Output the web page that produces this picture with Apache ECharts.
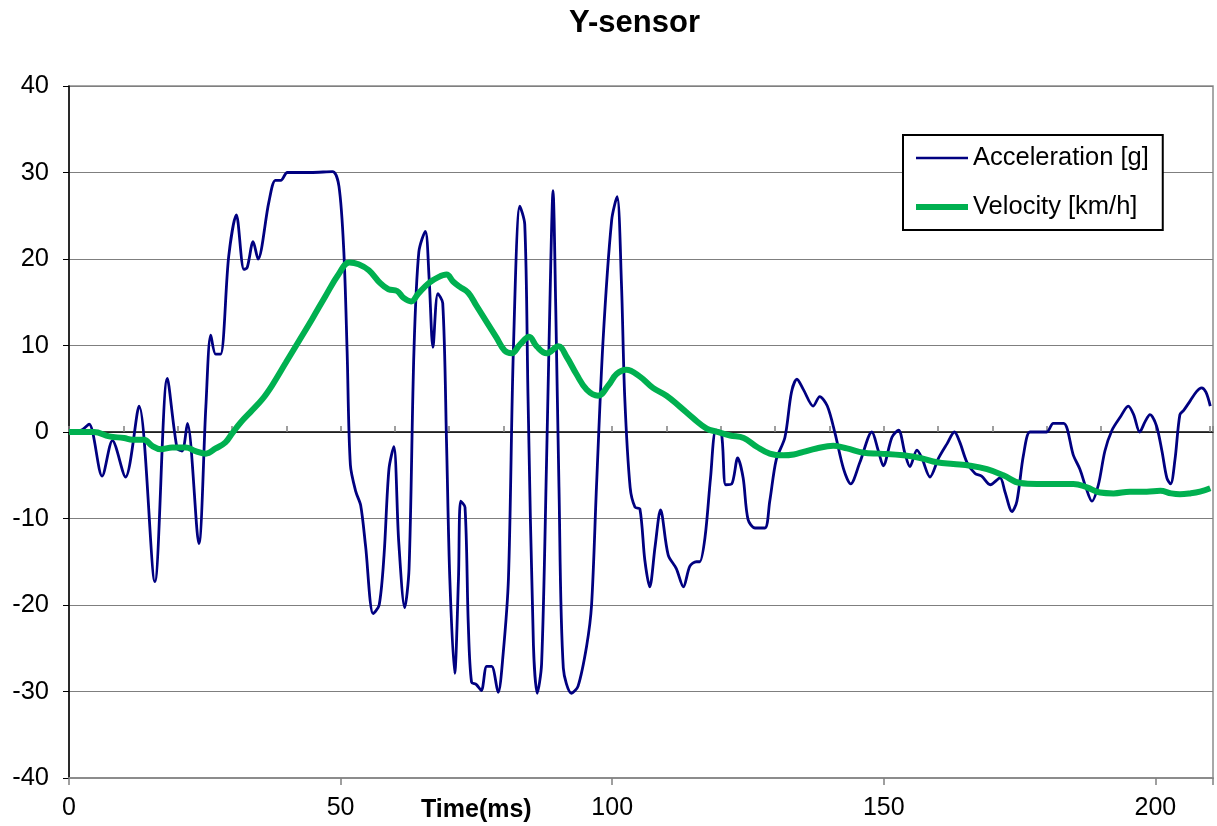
<!DOCTYPE html>
<html style="height: 100%">
<head>
    <meta charset="utf-8">
    <title>Y-sensor</title>
    <script src="https://cdn.jsdelivr.net/npm/echarts@6/dist/echarts.min.js"></script>
</head>
<body style="height: 100%; margin: 0; background: #fff">
    <div id="chart" style="width: 1217px; height: 826px;"></div>

    <script type="text/javascript">
    // time (ms) / value pairs
    var accTime = [0.5, 2.5, 3.7, 6.1, 8.0, 10.4, 12.9, 15.8, 18.1, 19.9, 20.8, 21.8, 23.9, 25.2, 26.1, 27.0, 27.9, 29.4, 30.8,
        32.2, 32.8, 33.9, 34.8, 36.8, 38.0, 39.0, 40.2, 44.5, 48.5, 49.7, 50.6, 51.2, 51.8, 52.8, 53.7, 54.6, 56.0,
        57.1, 58.0, 58.9, 59.8, 60.7, 61.8, 62.6, 63.5, 64.4, 65.6, 66.3, 67.0, 67.9, 68.8, 69.5, 70.1, 71.0, 71.7,
        72.1, 72.9, 73.5, 74.1, 75.0, 75.9, 76.9, 77.8, 79.0, 79.9, 80.9, 81.8, 83.0, 83.9, 84.5, 85.5, 86.2, 87.0,
        87.9, 88.7, 89.1, 89.6, 90.2, 91.0, 92.5, 93.7, 95.3, 96.2, 97.1, 98.3, 99.9, 100.9, 101.7, 102.3, 103.3,
        104.2, 105.1, 106.0, 106.9, 107.9, 108.9, 110.3, 111.8, 113.1, 114.3, 115.5, 116.1, 117.1, 118.1, 119.1,
        120.1, 120.9, 122.0, 123.1, 124.1, 125.0, 126.3, 128.1, 129.0, 130.2, 131.8, 133.0, 134.0, 135.2, 137.0,
        138.2, 139.6, 141.0, 142.6, 143.9, 145.6, 147.8, 149.0, 149.9, 151.5, 152.7, 153.9, 154.8, 156.1, 157.0,
        158.5, 160.1, 161.6, 163.0, 164.0, 165.3, 166.8, 168.0, 169.6, 171.4, 172.3, 173.6, 174.5, 175.7, 176.9,
        178.5, 180.0, 181.2, 183.1, 184.9, 186.1, 187.2, 188.3, 189.5, 190.7, 192.0, 193.5, 195.0, 196.0, 197.1,
        198.1, 199.0, 200.2, 201.2, 202.1, 202.8, 203.6, 204.5, 205.2, 206.4, 207.6, 208.5, 209.3, 210.1];
    var accValue = [0, 0.3, 0.9, -5.1, -1.0, -5.2, 3.0, -17.3, 6.2, -1.9, -2.2, 1.0, -12.9, 3.0, 11.2, 9.0, 9.0, 20.3, 25.1,
        18.8, 19.0, 22.0, 20.0, 26.6, 29.1, 29.1, 30.0, 30.0, 30.1, 28.4, 20.8, 9.3, -3.8, -6.9, -8.5, -13.2, -21.0,
        -20.0, -14.2, -4.3, -1.7, -12.7, -20.3, -15.8, 9.3, 20.8, 23.2, 17.7, 9.8, 16.0, 14.9, -1.2, -16.9, -27.9, -16.9,
        -8.0, -8.7, -22.1, -28.9, -29.2, -29.9, -27.1, -27.1, -30.1, -25.8, -16.9, 9.3, 26.1, 24.0, 4.1, -24.7, -30.2, -26.8,
        -3.8, 19.8, 27.9, 14.6, -6.4, -27.3, -30.2, -29.4, -24.7, -20.0, -6.4, 10.4, 24.5, 27.2, 17.2, 4.1, -6.4,
        -8.7, -8.9, -14.8, -17.9, -13.2, -9.0, -14.2, -15.8, -17.9, -15.5, -15.0, -15.0, -12.1, -5.3, 0.2,
        -0.1, -6.1, -6.0, -3.0, -5.3, -10.1, -11.1, -11.1, -8.0, -3.2, -0.6, 4.6, 6.1, 4.9, 3.0,
        4.1, 3.0, -0.1, -4.3, -6.0, -3.5, 0, -2.2, -3.9, -0.6, 0.2, -2.5, -4.0, -2.1, -3.0,
        -5.2, -3.0, -1.4, 0, -1.2, -3.5, -4.8, -5.1, -6.1, -5.3, -6.9, -9.2, -8.0, -2.7, 0,
        0, 0, 1.0, 1.0, -2.7, -4.3, -6.4, -8.0, -6.1, -2.2, 0.2, 1.7, 3.0, 2.0, 0,
        1.2, 2.0, 0.7, -2.2, -5.3, -6.0, -3.2, 2.0, 2.5, 3.6, 4.7, 5.1, 4.6, 3.0];

    var velTime = [0, 4.6, 7.4, 10.1, 11.7, 13.8, 15.3, 16.9, 19.0, 21.5, 23.3, 25.2, 27.0, 28.8, 30.1, 31.6, 33.4, 35.6,
        37.4, 39.9, 42.3, 44.8, 47.2, 49.6, 51.6, 53.3, 55.2, 57.3, 58.8, 60.4, 61.6, 63.0, 64.3, 66.2, 68.0, 69.5,
        70.7, 71.9, 73.5, 75.0, 76.9, 78.7, 80.2, 81.5, 83.0, 84.7, 86.1, 87.9, 90.1, 91.6, 93.4, 95.3, 97.4, 99.3,
        100.8, 102.6, 105.1, 107.5, 110.0, 112.5, 114.9, 117.4, 119.2, 121.7, 124.2, 126.6, 129.0, 131.5, 133.4,
        135.2, 137.6, 140.7, 143.2, 146.3, 149.3, 153.6, 156.7, 159.8, 162.8, 165.9, 169.0, 172.0, 175.1, 178.2,
        181.2, 184.9, 187.4, 189.8, 192.3, 195.3, 198.4, 200.9, 202.9, 204.5, 206.4, 208.2, 210.1];
    var velValue = [0, 0, -0.5, -0.7, -0.9, -0.9, -1.6, -2.0, -1.8, -1.8, -2.2, -2.5, -1.9, -1.2, -0.1, 1.1, 2.3, 3.8,
        5.4, 8.0, 10.5, 13.1, 15.7, 18.2, 19.6, 19.4, 18.7, 17.2, 16.5, 16.3, 15.5, 15.1, 16.0, 17.2, 17.9, 18.2,
        17.4, 16.8, 16.1, 14.6, 12.7, 10.9, 9.4, 9.1, 10.1, 11.0, 9.9, 9.1, 9.9, 8.7, 6.7, 4.9, 4.2, 5.4,
        6.7, 7.2, 6.4, 5.1, 4.2, 2.9, 1.6, 0.4, 0.05, -0.4, -0.7, -1.7, -2.5, -2.7, -2.6,
        -2.3, -1.9, -1.6, -1.9, -2.4, -2.5, -2.7, -3.0, -3.5, -3.7, -3.9, -4.3, -5.0, -5.9, -6.0,
        -6.0, -6.0, -6.4, -7.0, -7.1, -6.9, -6.9, -6.8, -7.1, -7.2, -7.1, -6.9, -6.5];

    var seriesNames = ['Acceleration [g]', 'Velocity [km/h]'];
    var yTicks = [-40, 40, 10];   // min, max, step
    var xTicks = [0, 210.6, 50];

    function pairs(t, v) {
        var out = [];
        for (var i = 0; i < t.length; i++) {
            out.push([t[i], v[i]]);
        }
        return out;
    }

    var font = 'Liberation Sans, Arial, sans-serif';

    function xAxisBase() {
        return {
            type: 'value',
            min: xTicks[0],
            max: xTicks[1],
            interval: xTicks[2],
            splitLine: { show: false },
            axisLabel: { show: false }
        };
    }

    // bottom axis: only labels + grey frame line
    var xBottom = xAxisBase();
    xBottom.position = 'bottom';
    xBottom.axisLine = { onZero: false, lineStyle: { color: '#8c8c8c', width: 2 } };
    xBottom.axisTick = { show: false };
    xBottom.axisLabel = { show: true, showMaxLabel: false, color: '#000', fontSize: 25, fontFamily: font, margin: 18 };

    // axis line on zero with ticks pointing up
    var xZero = xAxisBase();
    xZero.position = 'bottom';
    xZero.axisLine = { onZero: true, lineStyle: { color: '#000', width: 1.5 } };
    xZero.axisTick = { inside: true, length: 6, lineStyle: { color: '#808080', width: 1.5 } };
    xZero.minorTick = { show: true, splitNumber: 5, length: 6, lineStyle: { color: '#808080', width: 1.5 } };

    // major ticks pointing down (cross ticks)
    var xZero2 = xAxisBase();
    xZero2.position = 'bottom';
    xZero2.axisLine = { show: false, onZero: true };
    xZero2.axisTick = { inside: false, length: 7, lineStyle: { color: '#808080', width: 1.5 } };

    var option = {
        backgroundColor: '#fff',
        animation: false,
        title: [
            {
                text: 'Y-sensor',
                left: 564,
                top: 3,
                textStyle: { fontSize: 31, fontWeight: 'bold', color: '#000', fontFamily: font }
            },
            {
                text: 'Time(ms)',
                left: 416,
                top: 793,
                textStyle: { fontSize: 25, fontWeight: 'bold', color: '#000', fontFamily: font }
            }
        ],
        legend: {
            data: [
                { name: seriesNames[0], lineStyle: { width: 2.5 } },
                { name: seriesNames[1], lineStyle: { width: 6 } }
            ],
            orient: 'vertical',
            left: 903,
            top: 135,
            itemWidth: 52,
            itemHeight: 20,
            itemGap: 23,
            padding: [10, 14, 10, 10],
            borderColor: '#000',
            borderWidth: 2,
            backgroundColor: '#fff',
            itemStyle: { opacity: 0 },
            textStyle: { fontSize: 25.5, color: '#000', fontFamily: font }
        },
        grid: {
            left: 69,
            right: 4,
            top: 86,
            bottom: 48,
            show: true,
            outerBoundsMode: 'none',
            containLabel: false,
            borderColor: '#8c8c8c',
            borderWidth: 1.5
        },
        xAxis: [xBottom, xZero, xZero2],
        yAxis: {
            type: 'value',
            min: yTicks[0],
            max: yTicks[1],
            interval: yTicks[2],
            axisLine: { show: true, onZero: false, lineStyle: { color: '#000', width: 1.5 } },
            axisTick: { show: true, length: 6, lineStyle: { color: '#000' } },
            axisLabel: { color: '#000', fontSize: 25.5, fontFamily: font, margin: 20 },
            splitLine: { lineStyle: { color: '#7f7f7f', width: 1.2 } }
        },
        series: [
            {
                name: seriesNames[0],
                type: 'line',
                xAxisIndex: 0,
                data: pairs(accTime, accValue),
                smooth: 0.3,
                symbol: 'none',
                lineStyle: { color: '#000080', width: 2.8 },
                itemStyle: { color: '#000080' },
                z: 3
            },
            {
                name: seriesNames[1],
                type: 'line',
                xAxisIndex: 0,
                data: pairs(velTime, velValue),
                smooth: 0.4,
                symbol: 'none',
                lineStyle: { color: '#00b050', width: 6 },
                itemStyle: { color: '#00b050' },
                z: 4
            }
        ]
    };

    var myChart = echarts.init(document.getElementById('chart'));
    myChart.setOption(option);
    </script>
</body>
</html>
